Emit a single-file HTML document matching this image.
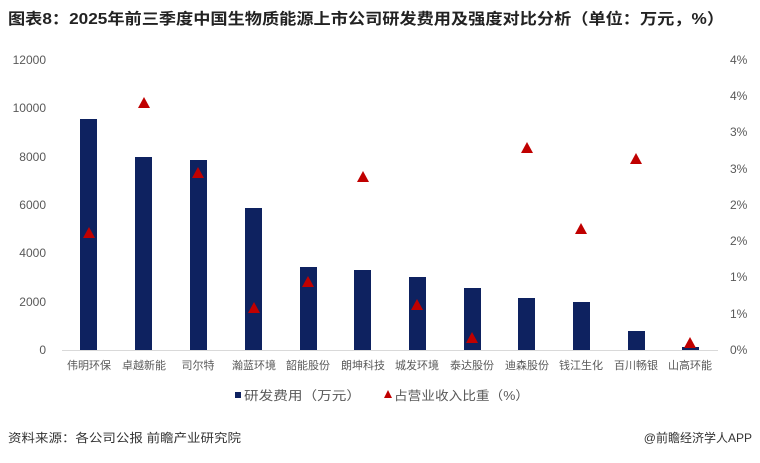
<!DOCTYPE html>
<html><head><meta charset="utf-8"><style>
body{margin:0;background:#fff;width:760px;height:458px;overflow:hidden;font-family:"Liberation Sans","Noto Sans CJK SC",sans-serif;}
</style></head><body>
<svg width="760" height="458" xmlns="http://www.w3.org/2000/svg" font-family="Liberation Sans, Noto Sans CJK SC, sans-serif">
<text x="8" y="24" font-size="15.5" font-weight="bold" fill="#222" textLength="716" lengthAdjust="spacingAndGlyphs">图表8：2025年前三季度中国生物质能源上市公司研发费用及强度对比分析（单位：万元，%）</text>
<line x1="62" y1="350.5" x2="718" y2="350.5" stroke="#d9d9d9"/>
<g font-size="12" fill="#595959" text-anchor="end">
<text x="46" y="354">0</text><text x="46" y="306">2000</text><text x="46" y="257">4000</text><text x="46" y="209">6000</text><text x="46" y="161">8000</text><text x="46" y="112">10000</text><text x="46" y="64">12000</text>
</g>
<g font-size="12" fill="#595959" text-anchor="start">
<text x="730" y="354">0%</text><text x="730" y="318">1%</text><text x="730" y="281">1%</text><text x="730" y="245">2%</text><text x="730" y="209">2%</text><text x="730" y="173">3%</text><text x="730" y="136">3%</text><text x="730" y="100">4%</text><text x="730" y="64">4%</text>
</g>
<g fill="#0e2260">
<rect x="80" y="119" width="17" height="231"/>
<rect x="135" y="157" width="17" height="193"/>
<rect x="190" y="160" width="17" height="190"/>
<rect x="245" y="208" width="17" height="142"/>
<rect x="300" y="267" width="17" height="83"/>
<rect x="354" y="270" width="17" height="80"/>
<rect x="409" y="277" width="17" height="73"/>
<rect x="464" y="288" width="17" height="62"/>
<rect x="518" y="298" width="17" height="52"/>
<rect x="573" y="302" width="17" height="48"/>
<rect x="628" y="331" width="17" height="19"/>
<rect x="682" y="347" width="17" height="3"/>
</g>
<g fill="#c00000">
<path d="M89 227l6 11h-12z"/><path d="M144 97l6 11h-12z"/><path d="M198 167l6 11h-12z"/><path d="M254 302l6 11h-12z"/><path d="M308 276l6 11h-12z"/><path d="M363 171l6 11h-12z"/><path d="M417 299l6 11h-12z"/><path d="M472 332l6 11h-12z"/><path d="M527 142l6 11h-12z"/><path d="M581 223l6 11h-12z"/><path d="M636 153l6 11h-12z"/><path d="M690 337l6 11h-12z"/>
</g>
<g font-size="11" fill="#595959" text-anchor="middle">
<text x="89" y="369">伟明环保</text><text x="144" y="369">卓越新能</text><text x="198" y="369">司尔特</text><text x="254" y="369">瀚蓝环境</text><text x="308" y="369">韶能股份</text><text x="363" y="369">朗坤科技</text><text x="417" y="369">城发环境</text><text x="472" y="369">泰达股份</text><text x="527" y="369">迪森股份</text><text x="581" y="369">钱江生化</text><text x="636" y="369">百川畅银</text><text x="690" y="369">山高环能</text>
</g>
<rect x="235" y="392" width="6" height="6" fill="#0e2260"/>
<text x="244" y="400" font-size="12.5" fill="#595959" textLength="117" lengthAdjust="spacingAndGlyphs">研发费用（万元）</text>
<path d="M388 390l4 8h-8z" fill="#c00000"/>
<text x="394" y="400" font-size="12.5" fill="#595959" textLength="135" lengthAdjust="spacingAndGlyphs">占营业收入比重（%）</text>
<text x="8" y="442" font-size="12" fill="#333" textLength="233" lengthAdjust="spacingAndGlyphs">资料来源：各公司公报  前瞻产业研究院</text>
<text x="752" y="442" font-size="12" fill="#333" text-anchor="end">@前瞻经济学人APP</text>
</svg>
</body></html>
